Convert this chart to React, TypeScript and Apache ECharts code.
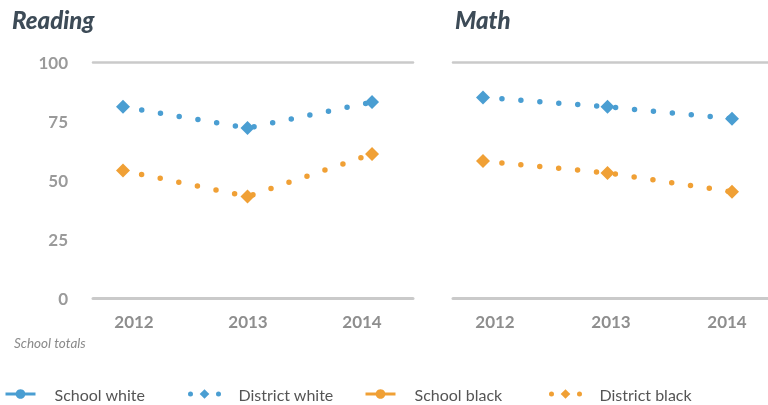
import React, { useEffect, useRef } from "react";
import * as echarts from "echarts";

const years = ["2012", "2013", "2014"];
const yTicks = [0, 25, 50, 75, 100];
const readingDistrictWhite = [81, 72, 83];
const readingDistrictBlack = [54, 43, 61];
const mathDistrictWhite = [85, 81, 76];
const mathDistrictBlack = [58, 53, 45];
const readingSchoolWhite: number[] = [];
const readingSchoolBlack: number[] = [];
const mathSchoolWhite: number[] = [];
const mathSchoolBlack: number[] = [];
const legendNames = ["School white", "District white", "School black", "District black"];

const BLUE = "#4a9ed2";
const ORANGE = "#f0a035";
const GRID = "#cacaca";
const FONT = "Lato, 'Noto Sans', sans-serif";

export default function App() {
  const ref = useRef<HTMLDivElement>(null);
  useEffect(() => {
    if (!ref.current) return;
    const chart = echarts.init(ref.current, null, { renderer: "svg" });
    const toPts = (arr: number[]) => arr.map((v, i) => [i, v]);

    const districtSeries = (name: string, color: string, data: number[], idx: number) => ({
      name,
      type: "line",
      xAxisIndex: idx,
      yAxisIndex: idx,
      data: toPts(data),
      symbol: "diamond",
      symbolSize: 14,
      itemStyle: { color },
      lineStyle: { color, width: 5.5, type: [0, 19], cap: "round" },
      z: 3,
    });
    const schoolSeries = (name: string, color: string, data: number[], idx: number) => ({
      name,
      type: "line",
      xAxisIndex: idx,
      yAxisIndex: idx,
      data: toPts(data),
      symbol: "circle",
      symbolSize: 10,
      itemStyle: { color },
      lineStyle: { color, width: 3 },
    });

    const dataX = (gridIndex: number, min: number, max: number) => ({
      type: "value",
      gridIndex,
      min,
      max,
      axisLine: { show: true, onZero: false, lineStyle: { color: GRID, width: 3 } },
      axisTick: { show: false },
      axisLabel: { show: false },
      splitLine: { show: false },
    });
    const topX = (gridIndex: number) => ({
      type: "category",
      gridIndex,
      position: "top",
      data: years,
      axisLine: { show: true, onZero: false, lineStyle: { color: GRID, width: 2.5 } },
      axisTick: { show: false },
      axisLabel: { show: false },
      splitLine: { show: false },
    });
    const labelX = (gridIndex: number) => ({
      type: "category",
      gridIndex,
      data: years,
      boundaryGap: false,
      axisLine: { show: false },
      axisTick: { show: false },
      axisLabel: {
        show: true,
        color: "#8e8e8e",
        fontSize: 17,
        fontWeight: "bold",
        fontFamily: FONT,
        margin: 15,
      },
    });
    const yAx = (gridIndex: number, showLabels: boolean) => ({
      type: "value",
      gridIndex,
      min: yTicks[0],
      max: yTicks[yTicks.length - 1],
      interval: 25,
      axisLine: { show: false },
      axisTick: { show: false },
      splitLine: { show: false },
      axisLabel: {
        show: showLabels,
        color: "#9a9a9a",
        fontSize: 17,
        fontWeight: "bold",
        fontFamily: FONT,
        margin: 25,
      },
    });

    const legendItem = (name: string, left: number, district: boolean) => ({
      data: [name],
      left,
      top: 386,
      padding: 0,
      itemWidth: 30,
      itemHeight: 12,
      itemGap: 0,
      selectedMode: false,
      formatter: "{g|}{t|{name}}",
      textStyle: {
        color: "#555",
        fontSize: 16,
        fontFamily: FONT,
        rich: {
          g: { width: 14 },
          t: { color: "#555", fontSize: 16, fontFamily: FONT },
        },
      },
      lineStyle: district
        ? { width: 5, type: [0, 28], dashOffset: -1, cap: "round" }
        : { width: 3 },
    });

    chart.setOption({
      animation: false,
      title: [
        {
          text: "Reading",
          left: 12,
          top: 7,
          padding: 0,
          textStyle: { fontSize: 24, fontStyle: "italic", fontWeight: 900, color: "#3d4b57", fontFamily: FONT },
        },
        {
          text: "Math",
          left: 455,
          top: 7,
          padding: 0,
          textStyle: { fontSize: 24, fontStyle: "italic", fontWeight: 900, color: "#3d4b57", fontFamily: FONT },
        },
      ],
      graphic: [
        {
          type: "text",
          left: 14,
          top: 336,
          style: { text: "School totals", fill: "#8a8a8a", fontSize: 13.5, fontStyle: "italic", fontFamily: FONT },
        },
      ],
      legend: [
        legendItem(legendNames[0], 4, false),
        legendItem(legendNames[1], 187, true),
        legendItem(legendNames[2], 364, false),
        legendItem(legendNames[3], 548, true),
      ],
      grid: [
        { left: 93, width: 320, top: 62, height: 236 },
        { left: 453, width: 315, top: 62, height: 236 },
        { left: 134, width: 228, top: 62, height: 236 },
        { left: 495, width: 232, top: 62, height: 236 },
      ],
      xAxis: [
        dataX(0, -0.241, 2.329),
        dataX(1, -0.241, 2.289),
        labelX(2),
        labelX(3),
        topX(0),
        topX(1),
      ],
      yAxis: [yAx(0, true), yAx(1, false), yAx(2, false), yAx(3, false)],
      series: [
        schoolSeries(legendNames[0], BLUE, readingSchoolWhite, 0),
        districtSeries(legendNames[1], BLUE, readingDistrictWhite, 0),
        schoolSeries(legendNames[2], ORANGE, readingSchoolBlack, 0),
        districtSeries(legendNames[3], ORANGE, readingDistrictBlack, 0),
        schoolSeries(legendNames[0], BLUE, mathSchoolWhite, 1),
        districtSeries(legendNames[1], BLUE, mathDistrictWhite, 1),
        schoolSeries(legendNames[2], ORANGE, mathSchoolBlack, 1),
        districtSeries(legendNames[3], ORANGE, mathDistrictBlack, 1),
      ],
    });
    return () => chart.dispose();
  }, []);
  return <div ref={ref} style={{ position: "fixed", left: 0, top: 0, width: 768, height: 405 }} />;
}
